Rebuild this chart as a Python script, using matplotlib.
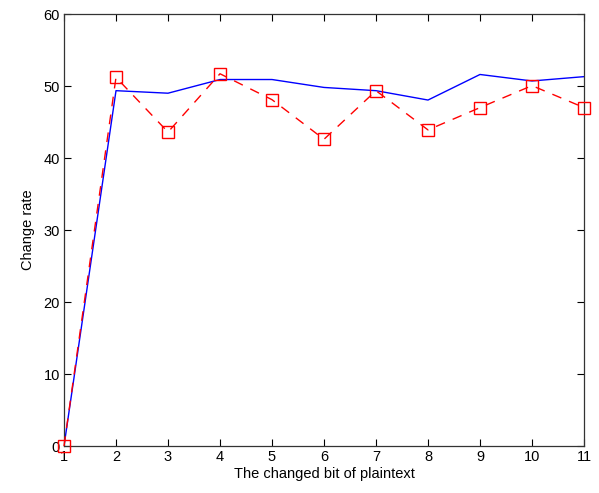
import matplotlib
matplotlib.use("Agg")
import matplotlib.pyplot as plt

plt.rcParams['font.family'] = ['Liberation Sans', 'DejaVu Sans']

bits = [1, 2, 3, 4, 5, 6, 7, 8, 9, 10, 11]
blue_rate = [0, 49.35, 49.0, 50.9, 50.9, 49.8, 49.35, 48.05, 51.6, 50.7, 51.3]
red_rate = [0, 51.2, 43.6, 51.7, 48.1, 42.6, 49.35, 43.9, 47.0, 50.05, 47.0]

fig = plt.figure(figsize=(5.99, 4.93), dpi=100)
ax = fig.add_axes([64/599, 47/493, 520/599, 432/493])

ax.plot(bits, blue_rate, color='blue', lw=1.0)
ax.plot(bits, red_rate, color='red', lw=1.0, ls=(0, (7, 6)), marker='s',
        markersize=8, markerfacecolor='none', markeredgecolor='red',
        markeredgewidth=1.0, clip_on=False, zorder=3)

ax.set_xlim(1, 11)
ax.set_ylim(0, 60)
ax.set_xticks(bits)
ax.set_yticks(range(0, 61, 10))
ax.tick_params(direction='in', top=True, right=True, labelsize=10.5, length=5, width=0.8, pad=3)
for s in ax.spines.values():
    s.set_linewidth(0.9)
    s.set_color('#333333')
ax.set_xlabel('The changed bit of plaintext', fontsize=10.5, labelpad=2)
ax.set_ylabel('Change rate', fontsize=10.5, labelpad=6)

fig.savefig('out.png', dpi=100)
